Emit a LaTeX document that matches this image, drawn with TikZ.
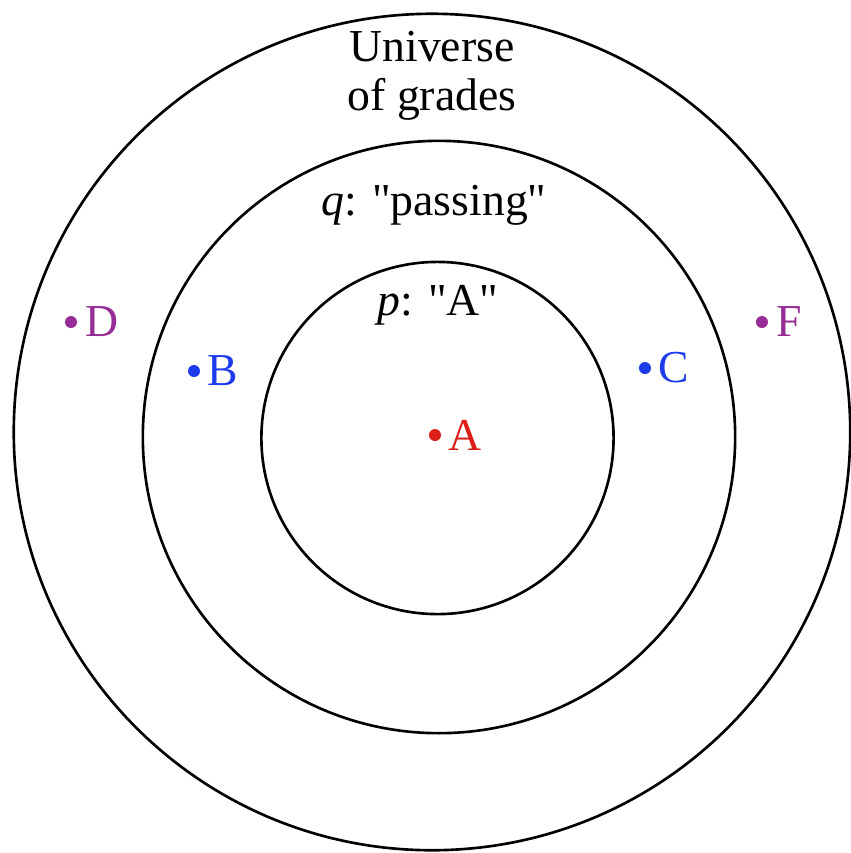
\documentclass[tikz,border=0pt]{standalone}
\usepackage{fontspec}
\setmainfont{Liberation Serif}[Ligatures=TeXOff]
\usepackage{tikz}
\usetikzlibrary{positioning}
\usepackage{xcolor}

\definecolor{gradepurple}{RGB}{150,45,150}
\definecolor{gradeblue}{RGB}{30,60,235}
\definecolor{gradered}{RGB}{220,30,25}

\begin{document}
\begin{tikzpicture}[x=0.01cm, y=-0.01cm,
    ring/.style={circle, draw, line width=0.75pt, inner sep=0pt},
    gdot/.style={circle, fill, inner sep=0pt, minimum size=0.12cm},
    glabel/.style={inner sep=0pt, font=\fontsize{13}{14}\selectfont}]
  \useasboundingbox (0,0) rectangle (851,853);

  % Universe and the two sets
  \node[ring, minimum size=8.36cm] (universe) at (432,432) {};
  \node[ring, minimum size=5.92cm] (passing)  at (439,437) {};
  \node[ring, minimum size=3.52cm] (grA)      at (437.5,438) {};

  % Set names
  \node[glabel, align=center] (unitext) at (432,76) {Universe\\of grades};
  \node[glabel, anchor=base] (qtext) at (434,215) {\textit{q}: "passing"};
  \node[glabel, anchor=base] (ptext) at (438,315) {\textit{p}: "A"};

  % Grades
  \node[gdot, gradered]    (dA) at (435,435) {};
  \node[gdot, gradeblue]   (dB) at (194,371) {};
  \node[gdot, gradeblue]   (dC) at (645,368) {};
  \node[gdot, gradepurple] (dD) at (71,322)  {};
  \node[gdot, gradepurple] (dF) at (762,322) {};

  \node[glabel, text=gradered,    right=0.06cm of dA] {A};
  \node[glabel, text=gradeblue,   right=0.06cm of dB] {B};
  \node[glabel, text=gradeblue,   right=0.06cm of dC] {C};
  \node[glabel, text=gradepurple, right=0.07cm of dD] {D};
  \node[glabel, text=gradepurple, right=0.07cm of dF] {F};
\end{tikzpicture}
\end{document}
